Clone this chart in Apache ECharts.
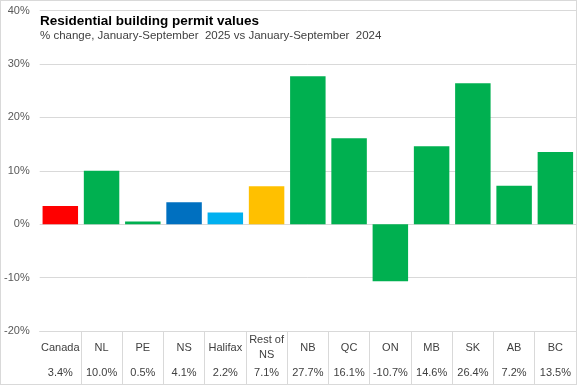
<!DOCTYPE html>
<html><head><meta charset="utf-8">
<script src="https://cdn.jsdelivr.net/npm/echarts@6/dist/echarts.min.js"></script>
<style>
html,body{margin:0;padding:0;background:#fff;}
#c{width:577px;height:385px;box-sizing:border-box;border:1px solid #d9d9d9;}
</style></head><body>
<div id="c"></div>
<script>
const categories = ['Canada','NL','PE','NS','Halifax','Rest of\nNS','NB','QC','ON','MB','SK','AB','BC'];
const values = [3.4, 10.0, 0.5, 4.1, 2.2, 7.1, 27.7, 16.1, -10.7, 14.6, 26.4, 7.2, 13.5];
const barColors = ['#FF0000','#00B050','#00B050','#0070C0','#00B0F0','#FFC000','#00B050','#00B050','#00B050','#00B050','#00B050','#00B050','#00B050'];
const yTicks = {min: -20, max: 40, interval: 10};
const titleText = 'Residential building permit values';
const subtitleText = '% change, January-September  2025 vs January-September  2024';

const fmt = v => v.toFixed(1) + '%';
const chart = echarts.init(document.getElementById('c'));
chart.setOption({
  animation: false,
  textStyle: {fontFamily: 'Liberation Sans, Arial, sans-serif'},
  title: {
    text: titleText, subtext: subtitleText, left: 34, top: 8, itemGap: 2,
    textStyle: {fontSize: 13.5, fontWeight: 'bold', color: '#000', fontFamily: 'Liberation Sans'},
    subtextStyle: {fontSize: 11.5, color: '#404040', fontFamily: 'Liberation Sans'}
  },
  grid: {left: 37.6, right: 0, top: 9.5, bottom: 53, containLabel: false},
  xAxis: {
    type: 'category', data: categories, position: 'bottom',
    axisLine: {show: true, onZero: false, lineStyle: {color: '#d9d9d9'}},
    axisTick: {show: true, length: 53, lineStyle: {color: '#d9d9d9'},
      interval: function (i) { return i !== 0; }},
    axisLabel: {
      interval: 0, margin: 2,
      formatter: function (name, idx) {
        const v = fmt(values[idx]);
        if (name.indexOf('\n') >= 0) {
          const p = name.split('\n');
          return '{c2|' + p[0] + '}\n{c2|' + p[1] + '}\n{v|' + v + '}';
        }
        return '{c|' + name + '}\n{v|' + v + '}';
      },
      rich: {
        c: {fontSize: 11, color: '#404040', lineHeight: 29, height: 29, align: 'center'},
        c2: {fontSize: 11, color: '#404040', lineHeight: 14.5, height: 14.5, align: 'center'},
        v: {fontSize: 11, color: '#404040', lineHeight: 22, height: 22, align: 'center'}
      }
    }
  },
  yAxis: {
    type: 'value', min: yTicks.min, max: yTicks.max, interval: yTicks.interval,
    axisLine: {show: false}, axisTick: {show: false},
    axisLabel: {formatter: v => v + '%', fontSize: 11, color: '#595959', margin: 10},
    splitLine: {lineStyle: {color: '#d9d9d9'}}
  },
  series: [{
    type: 'bar', data: values.map((v, i) => ({value: v, itemStyle: {color: barColors[i]}})),
    barCategoryGap: '14%'
  }]
});
</script></body></html>
